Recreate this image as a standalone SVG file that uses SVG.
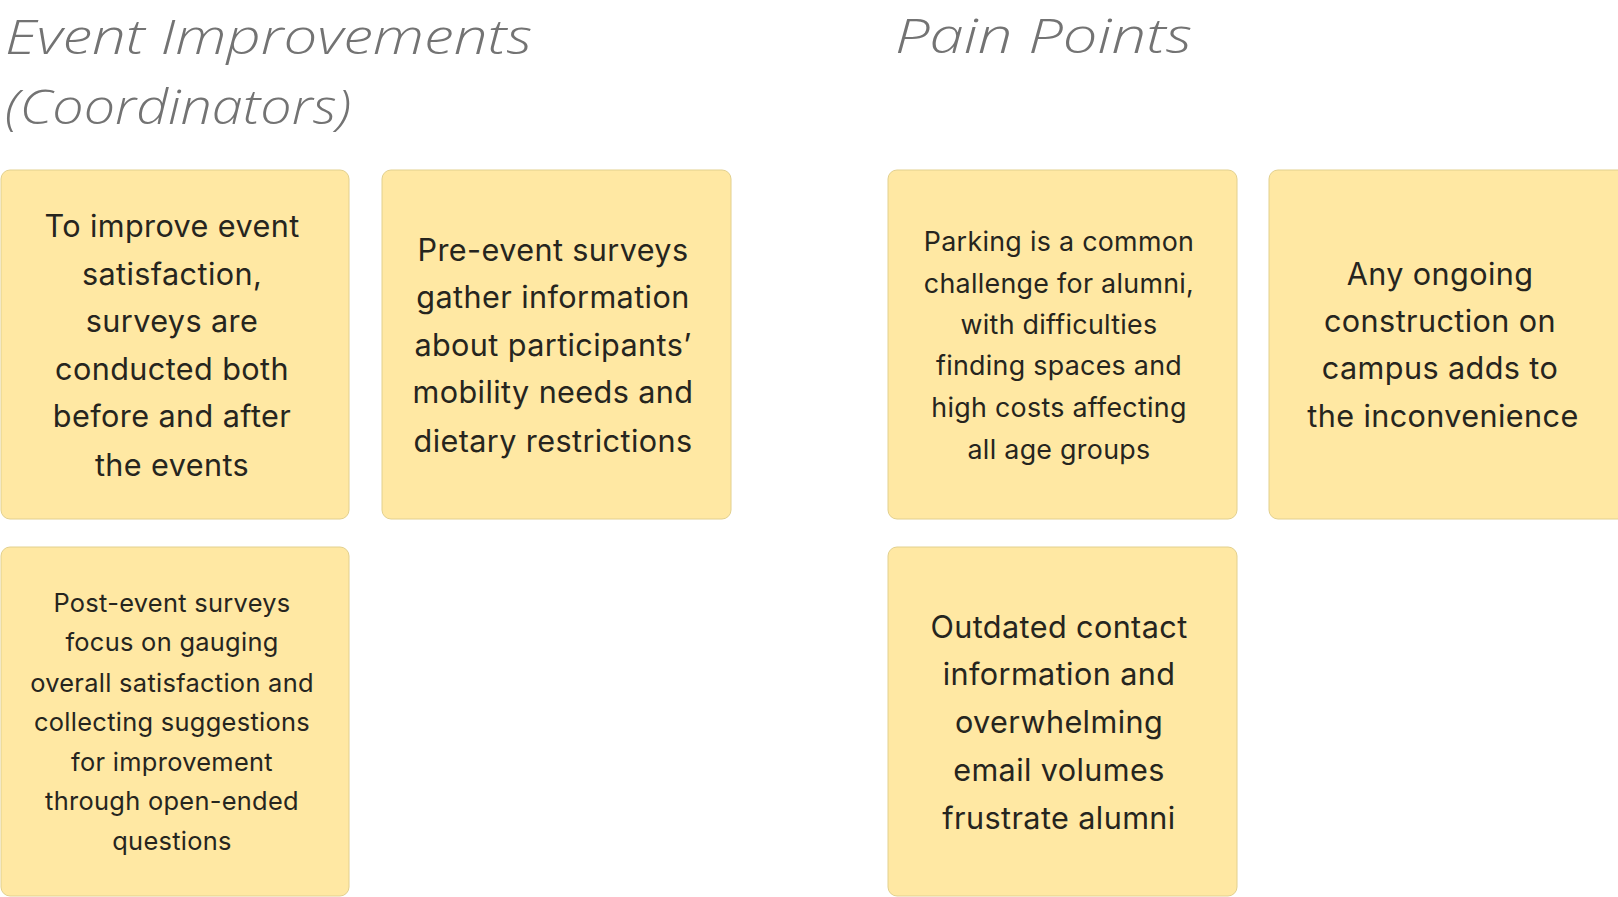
<svg xmlns="http://www.w3.org/2000/svg" width="1618" height="897" viewBox="0 0 1618 897">
<style>
.title{font-family:"Open Sans","Liberation Sans",sans-serif;font-style:italic;font-weight:300;fill:#737373;font-size:48px}
.sticky{fill:#FFE8A3;stroke:#E2D08E;stroke-width:1}
.t{font-family:Inter,"Noto Sans",sans-serif;fill:#26251e;text-anchor:middle}
.l{font-size:30.6px;letter-spacing:0.4px}
.m{font-size:26.8px;letter-spacing:0.3px}
.s{font-size:25.4px;letter-spacing:0.3px}
</style>
<rect width="1618" height="897" fill="#ffffff"/>
<g id="titles">
<text class="title" x="5" y="54" textLength="527" lengthAdjust="spacingAndGlyphs">Event Improvements</text>
<text class="title" x="5" y="124" textLength="346" lengthAdjust="spacingAndGlyphs">(Coordinators)</text>
<text class="title" x="895" y="53" textLength="297" lengthAdjust="spacingAndGlyphs">Pain Points</text>
</g>
<g id="connectors"></g>
<g id="note1">
<rect class="sticky" x="1" y="170" width="348" height="349" rx="9"/>
<text class="t l"><tspan x="172" y="237">To improve event</tspan><tspan x="172" y="285">satisfaction,</tspan><tspan x="172" y="332">surveys are</tspan><tspan x="172" y="380">conducted both</tspan><tspan x="172" y="427">before and after</tspan><tspan x="172" y="476">the events</tspan></text>
</g>
<g id="note2">
<rect class="sticky" x="382" y="170" width="349" height="349" rx="9"/>
<text class="t l"><tspan x="553" y="261">Pre-event surveys</tspan><tspan x="553" y="308">gather information</tspan><tspan x="553" y="356">about participants’</tspan><tspan x="553" y="403">mobility needs and</tspan><tspan x="553" y="452">dietary restrictions</tspan></text>
</g>
<g id="note3">
<rect class="sticky" x="888" y="170" width="349" height="349" rx="9"/>
<text class="t m"><tspan x="1059" y="251">Parking is a common</tspan><tspan x="1059" y="293">challenge for alumni,</tspan><tspan x="1059" y="334">with difficulties</tspan><tspan x="1059" y="375">finding spaces and</tspan><tspan x="1059" y="417">high costs affecting</tspan><tspan x="1059" y="459">all age groups</tspan></text>
</g>
<g id="note4">
<rect class="sticky" x="1269" y="170" width="358" height="349" rx="9"/>
<text class="t l"><tspan x="1440" y="285">Any ongoing</tspan><tspan x="1440" y="332">construction on</tspan><tspan x="1440" y="379">campus adds to</tspan><tspan x="1443" y="427">the inconvenience</tspan></text>
</g>
<g id="note5">
<rect class="sticky" x="1" y="547" width="348" height="349" rx="9"/>
<text class="t s"><tspan x="172" y="612">Post-event surveys</tspan><tspan x="172" y="651">focus on gauging</tspan><tspan x="172" y="692">overall satisfaction and</tspan><tspan x="172" y="731">collecting suggestions</tspan><tspan x="172" y="771">for improvement</tspan><tspan x="172" y="810">through open-ended</tspan><tspan x="172" y="850">questions</tspan></text>
</g>
<g id="note6">
<rect class="sticky" x="888" y="547" width="349" height="349" rx="9"/>
<text class="t l"><tspan x="1059" y="638">Outdated contact</tspan><tspan x="1059" y="685">information and</tspan><tspan x="1059" y="733">overwhelming</tspan><tspan x="1059" y="781">email volumes</tspan><tspan x="1059" y="829">frustrate alumni</tspan></text>
</g>
</svg>
